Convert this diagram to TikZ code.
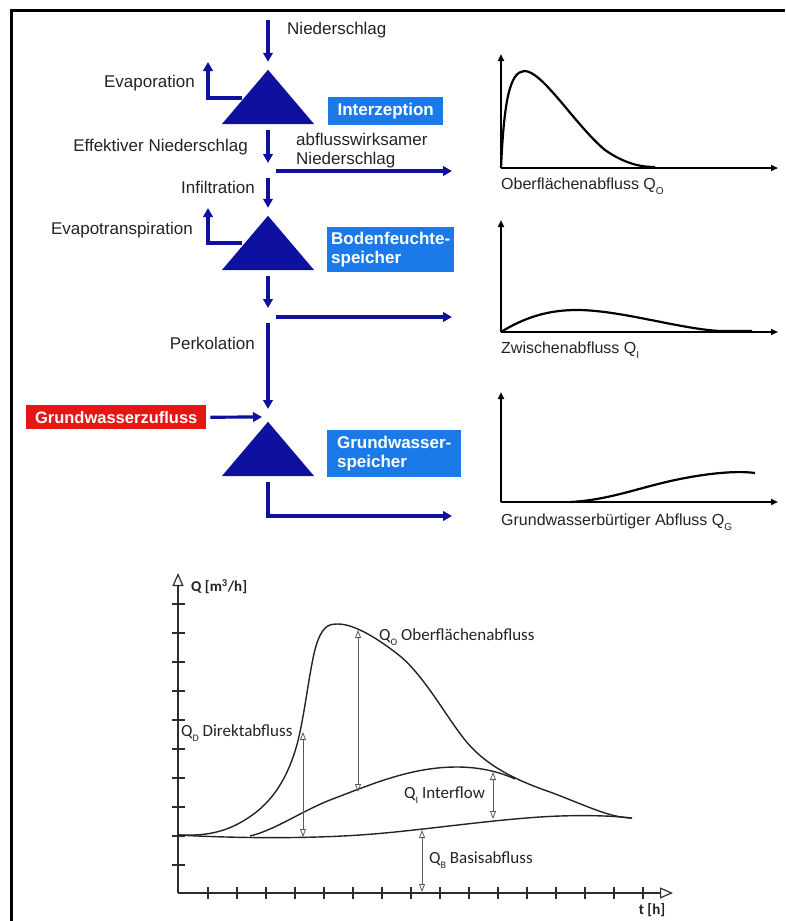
\documentclass[tikz,border=0pt]{standalone}
\usepackage{fontspec}
\setmainfont{Liberation Sans}
\newfontfamily\calib{Carlito}
\usetikzlibrary{arrows.meta}
\definecolor{flowblue}{RGB}{14,16,160}
\definecolor{boxblue}{RGB}{28,122,232}
\definecolor{boxred}{RGB}{228,22,22}
\definecolor{ink}{RGB}{35,35,35}
\definecolor{axisgray}{RGB}{45,45,45}
\definecolor{arrgray}{RGB}{90,90,90}
% small, low index letter for the runoff symbols
\newcommand\lowsub[1]{\raisebox{-0.55ex}{\fontsize{10}{10}\selectfont #1}}

\begin{document}
\begin{tikzpicture}[x=1pt,y=-1pt,
  flow/.style={draw=flowblue, line width=3.2pt, -{Triangle[length=9pt,width=9.5pt]}},
  lbl/.style={font=\fontsize{17}{20}\selectfont, text=ink, inner sep=0pt},
  glbl/.style={font=\fontsize{16}{19}\selectfont, text=ink, inner sep=0pt},
  clbl/.style={font=\calib\fontsize{17}{20}\selectfont, text=ink, inner sep=0pt},
  store/.style={minimum width=92pt, minimum height=54pt, inner sep=0pt},
  tag/.style={fill=boxblue, text=white, font=\bfseries\fontsize{17}{19}\selectfont,
              inner xsep=4pt, inner ysep=0pt, align=left, anchor=north west},
  redtag/.style={fill=boxred, text=white, font=\bfseries\fontsize{16.5}{19}\selectfont,
              inner xsep=4pt, inner ysep=0pt, anchor=north west},
  gaxis/.style={draw=black, line width=2.4pt, -{Triangle[length=7pt,width=6pt]}},
  gcurve/.style={draw=black, line width=2.2pt},
  caxis/.style={draw=axisgray, line width=2.4pt, -{Triangle[open,length=13pt,width=11pt,line width=1.2pt]}},
  ctick/.style={draw=axisgray, line width=1.1pt},
  ccurve/.style={draw=ink, line width=1.4pt},
  span/.style={draw=arrgray, line width=0.8pt,
     {Triangle[open,length=8pt,width=6pt,line width=0.8pt]}-{Triangle[open,length=8pt,width=6pt,line width=0.8pt]}}
]
\useasboundingbox (0,0) rectangle (785,921);

% frame
\draw[black, line width=3pt] (11,921) -- (11,10) -- (785,10);

% ---------- storage cascade ----------
\node[store] (t1) at (268,97) {};
\node[store] (t2) at (268,243) {};
\node[store] (t3) at (268,449) {};
\foreach \t in {t1,t2,t3}
  \fill[flowblue] (\t.north) -- (\t.south east) -- (\t.south west) -- cycle;

\coordinate (rain) at (268,20);
\coordinate (j1) at (268,171);
\coordinate (j2) at (268,317);
\coordinate (j3) at (268,417);
\coordinate (o1) at (452,171);
\coordinate (o2) at (452,317);
\coordinate (o3) at (452,516);
\coordinate (ev1s) at (242,98);
\coordinate (ev1e) at (208,62);
\coordinate (ev2s) at (242,243);
\coordinate (ev2e) at (208,208);

\draw[flow] (rain) -- ([yshift=8pt]t1.north);
\draw[flow] (ev1s) -| (ev1e);
\draw[flow] ([yshift=-6pt]t1.south) -- ([yshift=8pt]j1);
\draw[flow] ([xshift=8pt]j1) -- (o1);
\draw[flow] ([yshift=-7pt]j1) -- ([yshift=8pt]t2.north);
\draw[flow] (ev2s) -| (ev2e);
\draw[flow] ([yshift=-6pt]t2.south) -- ([yshift=9pt]j2);
\draw[flow] ([xshift=8pt]j2) -- (o2);
\draw[flow] ([yshift=-6pt]j2) -- ([yshift=8pt]j3);
\draw[flow] ([yshift=-6pt]t3.south) |- (o3);

\node[lbl, anchor=west] (nsl) at (287,30) {Niederschlag};
\node[lbl, anchor=east] (evap) at (195,83) {Evaporation};
\node[lbl, anchor=east] (effn) at (248,147) {Effektiver Niederschlag};
\node[lbl, anchor=north west, align=left, font=\fontsize{17}{19}\selectfont] (awn) at (296,133) {abflusswirksamer\\Niederschlag};
\node[lbl, anchor=east] (infl) at (255,187) {Infiltration};
\node[lbl, anchor=east] (evt) at (193,230) {Evapotranspiration};
\node[lbl, anchor=east] (perk) at (255,343) {Perkolation};

\node[tag, minimum width=115pt, minimum height=28pt] (interz) at (328,97) {Interzeption};
\node[tag, minimum width=116pt, minimum height=45pt] (boden) at (327,227) {Bodenfeuchte-\\speicher};
\node[tag, minimum width=134pt, minimum height=47pt] (gws) at (327,430) {Grundwasser-\\speicher};
\node[redtag, minimum width=180pt, minimum height=24pt] (gwz) at (26,405) {Grundwasserzufluss};
\draw[flow] ([xshift=4pt]gwz.east) -- ([xshift=-6pt]j3);

% ---------- component hydrographs ----------
\coordinate (g1) at (501,168);
\coordinate (g1y) at (501,54);
\coordinate (g1x) at (778,168);
\draw[gaxis] (g1) -- (g1y);
\draw[gaxis] (g1) -- (g1x);
\draw[gcurve] (g1) .. controls (504,100) and (510,72) .. (524,71)
  .. controls (542,70) and (575,125) .. (605,150)
  .. controls (628,166) and (645,167) .. (655,167);
\node[glbl, anchor=west] (l1) at (501,186) {Oberflächenabfluss Q\lowsub{O}};

\coordinate (g2) at (501,332);
\coordinate (g2y) at (501,220);
\coordinate (g2x) at (778,332);
\draw[gaxis] (g2) -- (g2y);
\draw[gaxis] (g2) -- (g2x);
\draw[gcurve] (g2) .. controls (530,314) and (555,310) .. (577,310)
  .. controls (620,310) and (680,329) .. (720,331) -- (752,331);
\node[glbl, anchor=west] (l2) at (501,350) {Zwischenabfluss Q\lowsub{I}};

\coordinate (g3) at (501,502);
\coordinate (g3y) at (501,392);
\coordinate (g3x) at (778,502);
\draw[gaxis] (g3) -- (g3y);
\draw[gaxis] (g3) -- (g3x);
\draw[gcurve] (570,502) .. controls (610,500) and (640,487) .. (680,479)
  .. controls (715,472) and (740,471) .. (755,473);
\node[glbl, anchor=west] (l3) at (501,522) {Grundwasserbürtiger Abfluss Q\lowsub{G}};

% ---------- total hydrograph ----------
\coordinate (O) at (178,893);
\coordinate (Qtop) at (178,573);
\coordinate (tend) at (673,893);
\foreach \k in {0,...,9}
  \draw[ctick] (172,{604+29*\k}) -- (185,{604+29*\k});
\foreach \k in {0,...,15}
  \draw[ctick] ({208+29*\k},887) -- ({208+29*\k},899);
\draw[caxis] (O) -- (Qtop);
\draw[caxis] (O) -- (tend);

% baseflow
\draw[ccurve] (178,835) .. controls (230,838) and (300,839) .. (360,835)
  .. controls (420,831) and (500,818) .. (560,816)
  .. controls (590,815) and (615,816) .. (632,818);
% interflow
\draw[ccurve] (250,836) .. controls (275,830) and (300,812) .. (330,800)
  .. controls (370,785) and (410,767) .. (457,767)
  .. controls (480,767) and (500,772) .. (515,779);
% total runoff
\draw[ccurve] (178,835) .. controls (205,836) and (225,833) .. (248,818)
  .. controls (268,805) and (285,785) .. (296,748)
  .. controls (305,718) and (310,660) .. (318,640)
  .. controls (324,625) and (330,624) .. (338,624)
  .. controls (355,624) and (380,640) .. (400,656)
  .. controls (425,677) and (445,715) .. (465,740)
  .. controls (485,765) and (515,780) .. (550,792)
  .. controls (585,805) and (610,818) .. (632,818);

\coordinate (dA) at (303,732);
\coordinate (dB) at (303,837);
\coordinate (oA) at (358,630);
\coordinate (oB) at (358,792);
\coordinate (iA) at (493,772);
\coordinate (iB) at (493,819);
\coordinate (bA) at (422,830);
\coordinate (bB) at (422,892);
\draw[span] (dB) -- (dA);
\draw[span] (oB) -- (oA);
\draw[span] (iB) -- (iA);
\draw[span] (bB) -- (bA);

\node[clbl, anchor=west, font=\calib\bfseries\fontsize{15}{17}\selectfont] (qlab) at (191,587) {Q [m\textsuperscript{3}/h]};
\node[clbl, anchor=center, font=\calib\bfseries\fontsize{15}{17}\selectfont] (tlab) at (652,910) {t [h]};
\node[clbl, anchor=west] (lo) at (379,637) {Q\lowsub{O} Oberflächenabfluss};
\node[clbl, anchor=west] (ld) at (181,733) {Q\lowsub{D} Direktabfluss};
\node[clbl, anchor=west] (li) at (404,795) {Q\lowsub{I} Interflow};
\node[clbl, anchor=west] (lb) at (429,860) {Q\lowsub{B} Basisabfluss};
\end{tikzpicture}
\end{document}
